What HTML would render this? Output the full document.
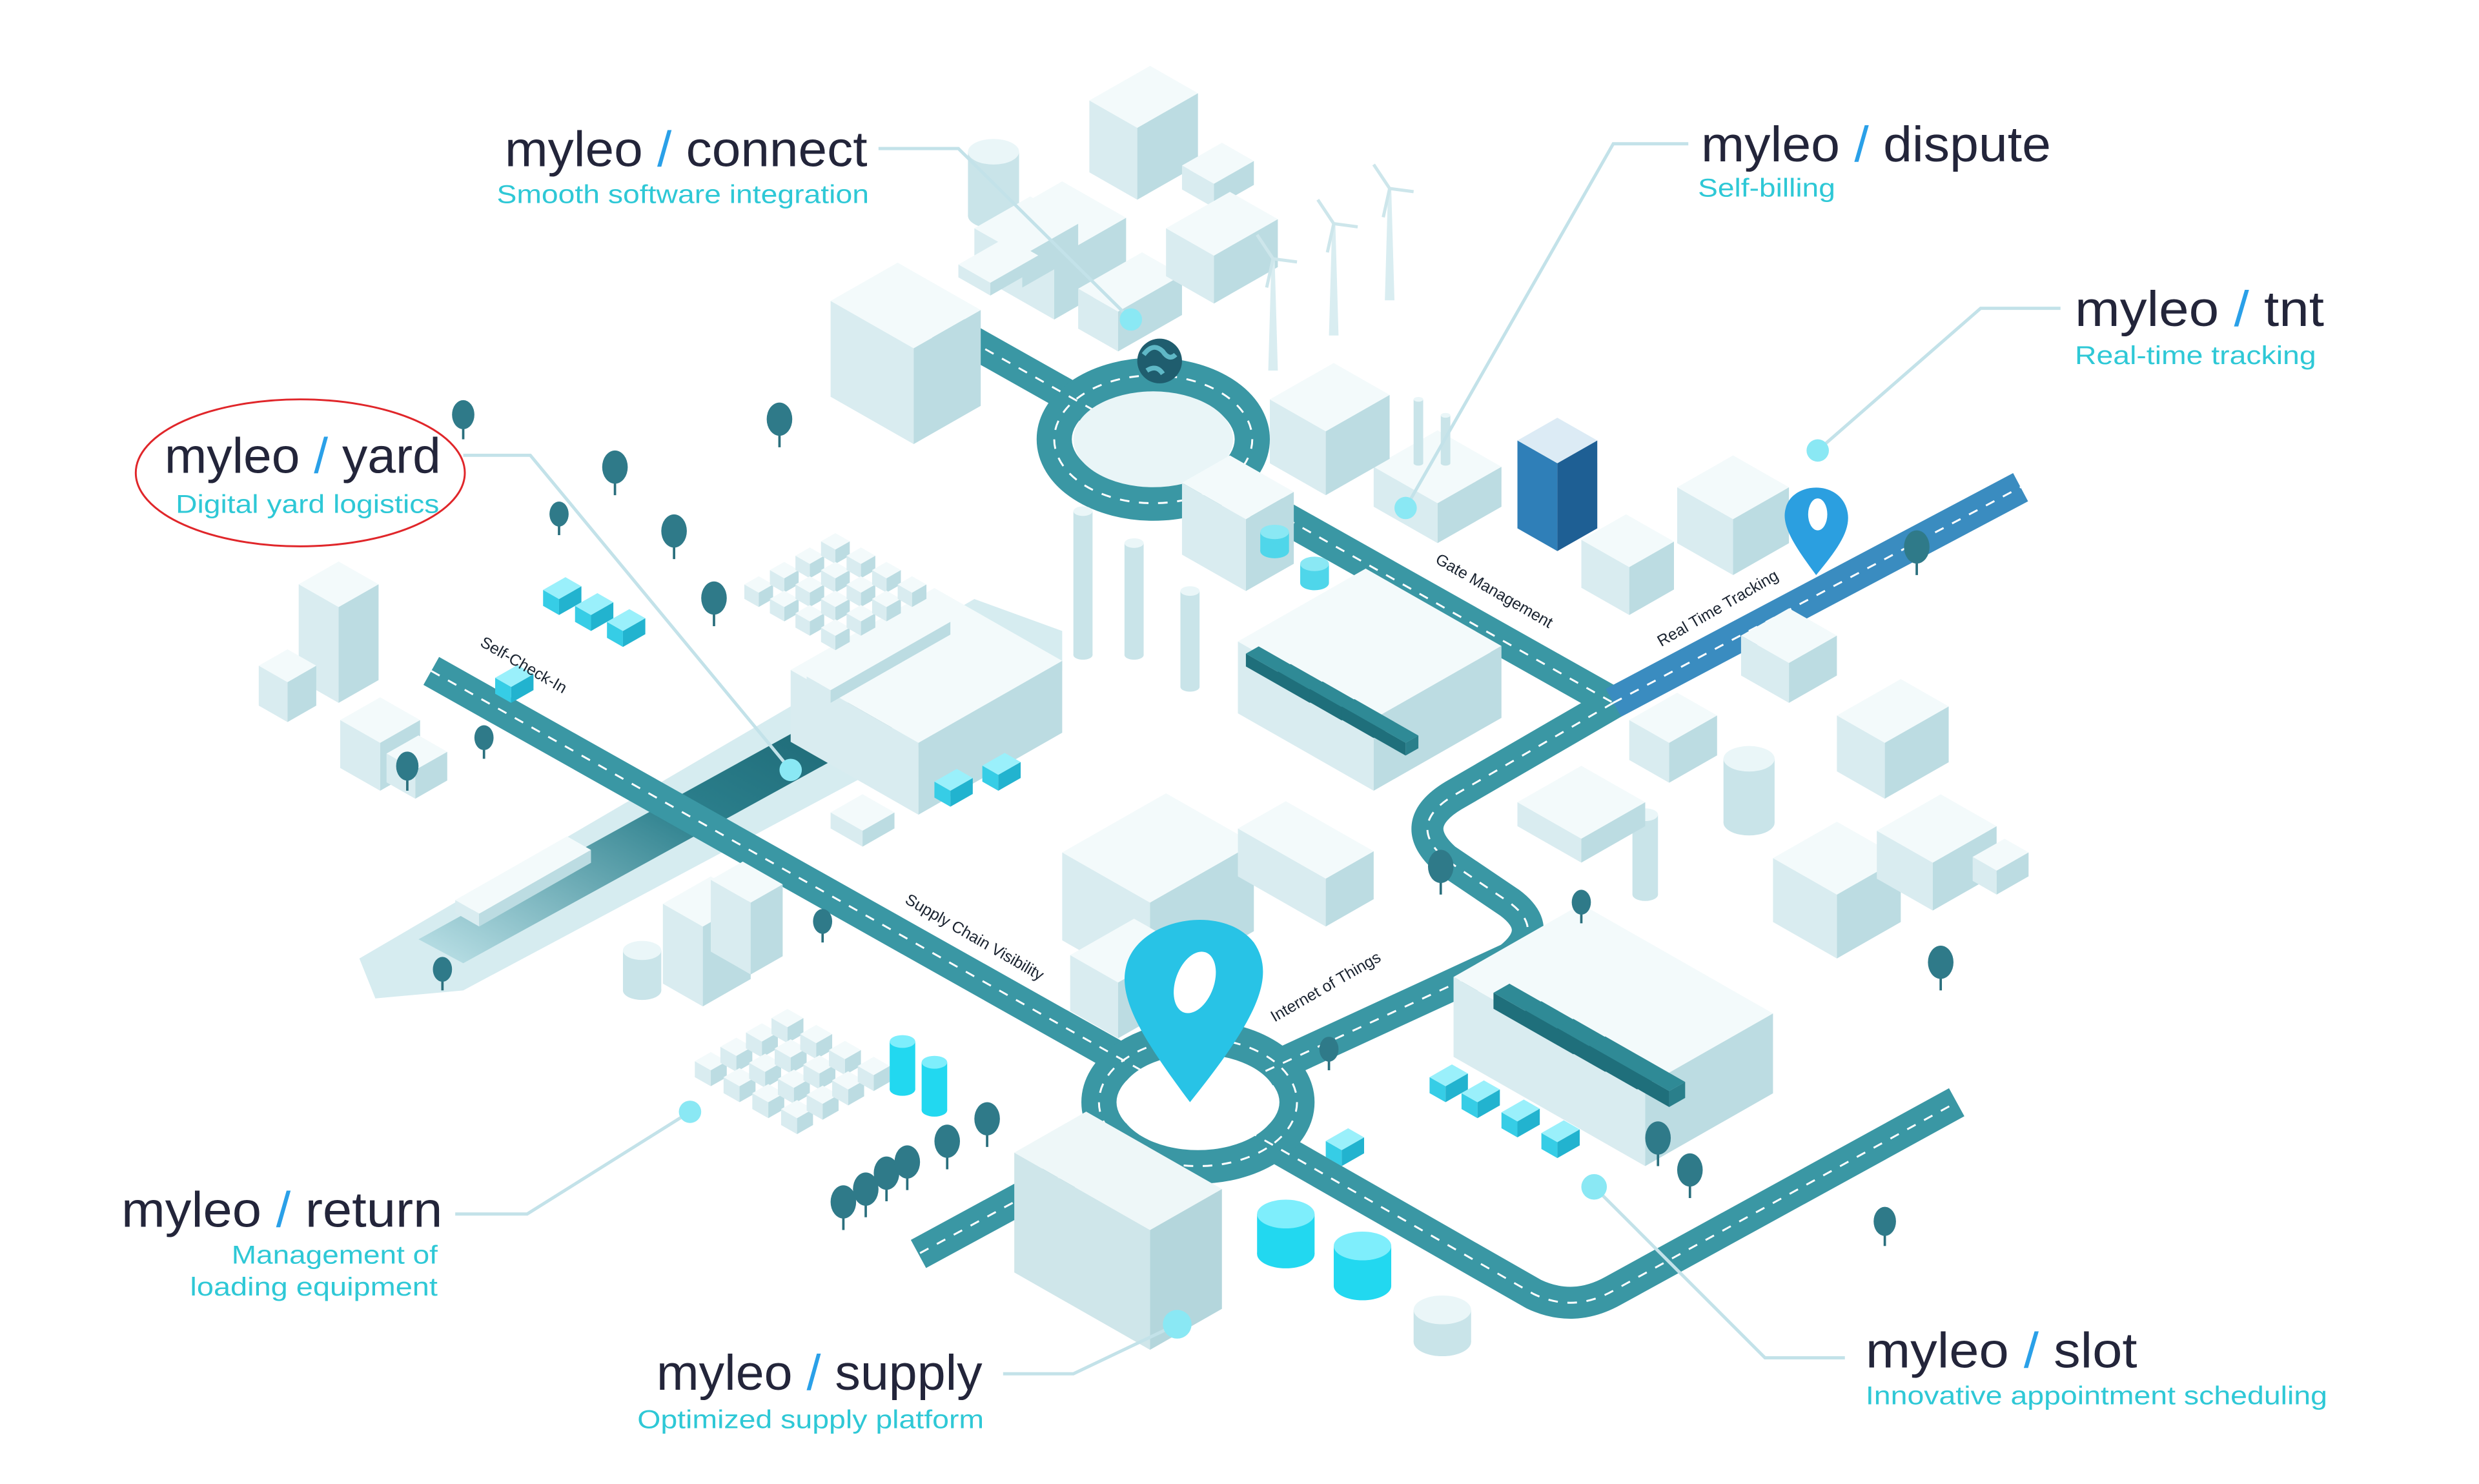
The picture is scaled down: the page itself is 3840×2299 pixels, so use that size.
<!DOCTYPE html>
<html><head><meta charset="utf-8"><style>
html,body{margin:0;padding:0;background:#fff;}
svg{display:block;}
</style></head><body>
<svg id="s" xmlns="http://www.w3.org/2000/svg" width="3840" height="2299" viewBox="0 0 1552 929" preserveAspectRatio="none" font-family="Liberation Sans, sans-serif">
<defs>
<linearGradient id="wg" x1="0" y1="1" x2="1" y2="0"><stop offset="0" stop-color="#bfe3e9"/><stop offset="0.45" stop-color="#2b7f8c"/><stop offset="0.7" stop-color="#1f6a77"/><stop offset="1" stop-color="#cfe9ee"/></linearGradient>
</defs>
<!-- canal -->
<polygon points="225,600 610,375 665,395 665,420 290,620 235,625" fill="#d6ecf0"/>
<polygon points="262,588 612,395 645,408 290,603" fill="url(#wg)"/>
<g id="roads" fill="none" stroke-linecap="butt" stroke-linejoin="round">
<path d="M575,195 L1010,440" stroke="#3a97a4" stroke-width="20"/>
<path d="M1010,440 L1265,305" stroke="#3a8cc0" stroke-width="20"/>
<path d="M1010,440 L910,498 Q880,516 905,538 L945,565 Q968,582 945,600 L750,690" stroke="#3a97a4" stroke-width="20"/>
<path d="M270,420 L750,690" stroke="#3a97a4" stroke-width="20"/>
<path d="M750,690 L960,810 Q985,822 1010,808 L1225,690" stroke="#3a97a4" stroke-width="20"/>
<path d="M750,690 L575,785" stroke="#3a97a4" stroke-width="20"/>
<ellipse cx="722" cy="275" rx="62" ry="40" stroke="#3a97a4" stroke-width="22"/>
<ellipse cx="750" cy="690" rx="62" ry="40" stroke="#3a97a4" stroke-width="22"/>
<g stroke="#fff" stroke-width="1.2" stroke-dasharray="6 6">
<path d="M575,195 L1010,440"/><path d="M1010,440 L1265,305"/>
<path d="M1010,440 L910,498 Q880,516 905,538 L945,565 Q968,582 945,600 L750,690"/>
<path d="M270,420 L750,690"/><path d="M750,690 L960,810 Q985,822 1010,808 L1225,690"/><path d="M750,690 L575,785"/>
<ellipse cx="722" cy="275" rx="62" ry="40"/><ellipse cx="750" cy="690" rx="62" ry="40"/>
</g>
</g>
<ellipse cx="722" cy="275" rx="50" ry="30" fill="#e9f5f7"/>
<ellipse cx="750" cy="690" rx="50" ry="30" fill="#fff"/>
<g id="b"></g>
<!-- pins -->
<path d="M745,690 C715,650 700,625 705,605 C712,575 765,565 785,590 C800,612 785,640 745,690 Z" fill="#28c3e6"/>
<ellipse cx="748" cy="615" rx="12" ry="20" fill="#fff" transform="rotate(20 748 615)"/>
<path d="M1137,360 C1122,340 1115,328 1118,318 C1122,302 1150,300 1156,318 C1160,330 1152,342 1137,360 Z" fill="#2b9fe0"/>
<ellipse cx="1138" cy="322" rx="6" ry="10" fill="#fff"/>
<circle cx="726" cy="226" r="14" fill="#1f5d6e"/><path d="M716,222 q6,-8 12,-2 q4,6 8,2 M718,232 q6,-4 10,2" stroke="#5fb8c6" stroke-width="3" fill="none"/>
<!-- road labels -->
<g font-size="10" fill="#1a2330">
<text transform="translate(300,404) rotate(30)">Self-Check-In</text>
<text transform="translate(566,565) rotate(30)">Supply Chain Visibility</text>
<text transform="translate(798,640) rotate(-30)">Internet of Things</text>
<text transform="translate(898,352) rotate(30)">Gate Management</text>
<text transform="translate(1040,405) rotate(-30)">Real Time Tracking</text>
</g>
<!-- connectors -->
<g fill="none" stroke="#c3e2e9" stroke-width="2">
<polyline points="550,93 600,93 708,200"/>
<polyline points="1057,90 1010,90 880,318"/>
<polyline points="1290,193 1240,193 1138,282"/>
<polyline points="290,285 332,285 495,482"/>
<polyline points="285,760 330,760 432,696"/>
<polyline points="628,860 672,860 737,829"/>
<polyline points="1155,850 1105,850 998,743"/>
</g>
<g fill="#8ae8f4">
<circle cx="708" cy="200" r="7"/><circle cx="880" cy="318" r="7"/><circle cx="1138" cy="282" r="7"/>
<circle cx="495" cy="482" r="7"/><circle cx="432" cy="696" r="7"/><circle cx="737" cy="829" r="9"/><circle cx="998" cy="743" r="8"/>
</g>
<!-- labels -->
<g font-size="31" fill="#23253a">
<text x="316" y="104" textLength="227" lengthAdjust="spacingAndGlyphs">myleo <tspan fill="#2aa0e8">/</tspan> connect</text>
<text x="1065" y="101" textLength="219" lengthAdjust="spacingAndGlyphs">myleo <tspan fill="#2aa0e8">/</tspan> dispute</text>
<text x="1299" y="204" textLength="156" lengthAdjust="spacingAndGlyphs">myleo <tspan fill="#2aa0e8">/</tspan> tnt</text>
<text x="103" y="296" textLength="173" lengthAdjust="spacingAndGlyphs">myleo <tspan fill="#2aa0e8">/</tspan> yard</text>
<text x="76" y="768" textLength="201" lengthAdjust="spacingAndGlyphs">myleo <tspan fill="#2aa0e8">/</tspan> return</text>
<text x="411" y="870" textLength="204" lengthAdjust="spacingAndGlyphs">myleo <tspan fill="#2aa0e8">/</tspan> supply</text>
<text x="1168" y="856" textLength="170" lengthAdjust="spacingAndGlyphs">myleo <tspan fill="#2aa0e8">/</tspan> slot</text>
</g>
<g font-size="16" fill="#2ec8d6">
<text x="311" y="127" textLength="233" lengthAdjust="spacingAndGlyphs">Smooth software integration</text>
<text x="1063" y="123" textLength="86" lengthAdjust="spacingAndGlyphs">Self-billing</text>
<text x="1299" y="228" textLength="151" lengthAdjust="spacingAndGlyphs">Real-time tracking</text>
<text x="110" y="321" textLength="165" lengthAdjust="spacingAndGlyphs">Digital yard logistics</text>
<text x="145" y="791" textLength="129" lengthAdjust="spacingAndGlyphs">Management of</text>
<text x="119" y="811" textLength="155" lengthAdjust="spacingAndGlyphs">loading equipment</text>
<text x="399" y="894" textLength="217" lengthAdjust="spacingAndGlyphs">Optimized supply platform</text>
<text x="1168" y="879" textLength="289" lengthAdjust="spacingAndGlyphs">Innovative appointment scheduling</text>
</g>
<ellipse cx="188" cy="296" rx="103" ry="46" fill="none" stroke="#e0262a" stroke-width="1.2"/>
</svg>
<script>
var g=document.getElementById('b'),NS='http://www.w3.org/2000/svg';
function el(t,a){var e=document.createElementNS(NS,t);for(var k in a)e.setAttribute(k,a[k]);g.appendChild(e);return e;}
function P(a){return a.map(function(p){return p[0]+','+p[1]}).join(' ');}
function box(x,y,a,b,h,c){c=c||['#f3fafb','#d9ecf0','#bcdce2'];var k=0.57;
var F=[x,y],R=[x+a,y-k*a],L=[x-b,y-k*b],B=[x+a-b,y-k*(a+b)];
function u(p){return [p[0],p[1]-h];}
el('polygon',{points:P([F,L,u(L),u(F)]),fill:c[1]});
el('polygon',{points:P([F,R,u(R),u(F)]),fill:c[2]});
el('polygon',{points:P([u(F),u(R),u(B),u(L)]),fill:c[0]});}
function cyl(x,y,r,h,c){c=c||['#eaf6f8','#c9e4e9'];
el('rect',{x:x-r,y:y-h,width:2*r,height:h,fill:c[1]});el('ellipse',{cx:x,cy:y,rx:r,ry:r*0.5,fill:c[1]});el('ellipse',{cx:x,cy:y-h,rx:r,ry:r*0.5,fill:c[0]});}
function tree(x,y,r){el('line',{x1:x,y1:y,x2:x,y2:y-r*2,stroke:'#2a6f7d','stroke-width':1.5});el('ellipse',{cx:x,cy:y-r*2.2,rx:r,ry:r*1.3,fill:'#2f7a89'});}
cyl(622,135,16,40);box(712,125,38,30,45);box(760,130,25,20,15);box(660,200,45,40,38);box(700,220,40,25,25);box(760,190,40,30,30);box(640,180,35,30,20);box(620,185,30,20,8);
box(572,278,42,52,60);box(238,495,25,25,30);box(212,440,25,25,60);box(180,452,18,18,25);box(260,500,20,18,18);
box(900,340,40,40,25);box(830,310,40,35,40);
cyl(888,290,3,40);cyl(905,290,3,30);
box(975,345,25,25,55,['#dcebf5','#2f7fb8','#1e5f94']);
box(1085,360,35,35,35);box(1020,385,28,30,30);box(1120,440,30,30,25);
box(1180,500,40,30,35);box(1045,490,30,25,25);cyl(1095,515,16,40);
box(1150,600,40,40,40);box(1210,570,40,35,30);box(1250,560,20,15,15);cyl(1030,560,8,50);box(990,540,40,40,15);
box(575,510,90,80,45);box(540,530,20,20,10);box(780,370,30,40,45);cyl(798,345,9,12,['#8ae8f4','#4fd6ea']);cyl(823,365,9,12,['#8ae8f4','#4fd6ea']);cyl(850,385,8,12);
cyl(678,410,6,90);cyl(710,410,6,70);cyl(745,430,6,60);
box(860,495,80,85,45);
for(var i=0;i<4;i++){box(820+i*20,440+i*11,8,40,8,['#2f8a96','#1f6f7b','#2a7f8b']);}
box(720,620,65,55,55);box(830,580,30,55,30);box(700,650,40,30,35);
box(440,630,30,25,50);box(470,610,20,25,45);cyl(402,620,12,25);
box(1030,730,80,120,50);
for(var i=0;i<4;i++){box(985+i*20,660+i*11,10,50,10,['#2f8a96','#1f6f7b','#2a7f8b']);}
box(720,845,45,85,75,['#eef7f8','#cfe6ea','#b4d6dc']);
cyl(805,785,18,25,['#7eeefc','#22d8f0']);cyl(853,805,18,25,['#7eeefc','#22d8f0']);cyl(903,840,18,20);
var tr=[[350,385],[370,395],[390,405],[320,440],[595,505],[625,495],[905,690],[925,700],[950,712],[975,725],[840,730]];
tr.forEach(function(t){box(t[0],t[1],14,10,10,['#9af0fb','#36cde6','#22b3cf']);});
for(var i=0;i<4;i++)for(var j=0;j<4;j++){box(445+i*18+j*16,680+i*10-j*9,10,10,10);box(475+i*16+j*16,380+i*9-j*9,9,9,9);}
cyl(565,682,8,30,['#7eeefc','#22d8f0']);cyl(585,695,8,30,['#7eeefc','#22d8f0']);
[[797,232,70],[835,210,70],[870,188,70]].forEach(function(w){el('polygon',{points:P([[w[0]-3,w[1]],[w[0]+3,w[1]],[w[0]+1,w[1]-w[2]],[w[0]-1,w[1]-w[2]]]),fill:'#d9edf1'});el('path',{d:'M'+w[0]+','+(w[1]-w[2])+' l-10,-15 M'+w[0]+','+(w[1]-w[2])+' l15,2 M'+w[0]+','+(w[1]-w[2])+' l-4,18',stroke:'#cde6eb','stroke-width':2});});
[[290,275,7],[488,280,8],[385,310,8],[350,335,6],[422,350,8],[447,392,8],[303,475,6],[255,495,7],[515,590,6],[277,620,6],[902,560,8],[990,578,6],[1215,620,8],[1200,360,8],[832,670,6],[593,732,8],[618,718,8],[528,770,8],[542,762,8],[555,752,8],[568,745,8],[1038,730,8],[1058,750,8],[1180,780,7]].forEach(function(t){tree(t[0],t[1],t[2]);});
box(300,580,70,15,8);box(520,440,75,15,8);
</script>
</body></html>
